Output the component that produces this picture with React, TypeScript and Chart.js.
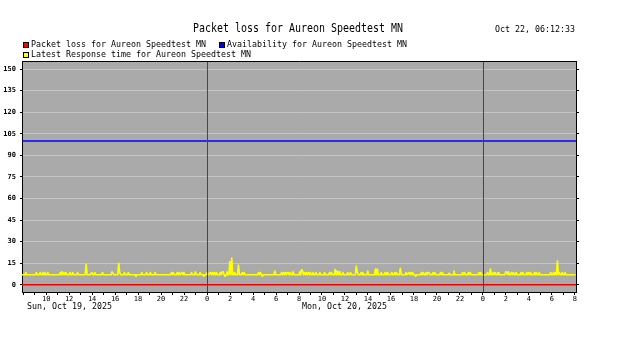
import React, { useEffect, useRef } from "react";
import { Chart, registerables } from "chart.js";

Chart.register(...registerables);

// ---------- text ----------
const TITLE = "Packet loss for Aureon Speedtest MN";
const TIMESTAMP = "Oct 22, 06:12:33";
const LEGEND_LABELS = [
  "Packet loss for Aureon Speedtest MN",
  "Availability for Aureon Speedtest MN",
  "Latest Response time for Aureon Speedtest MN",
];
const LEGEND_COLORS = ["#ff0000", "#0000ff", "#ffff00"];

// ---------- axes (x in hours since Sun Oct 19 2025 00:00) ----------
const X_MIN = 7.9;
const X_MAX = 56.1;
const Y_MIN = -5;
const Y_MAX = 155.6;
const Y_TICKS = [0, 15, 30, 45, 60, 75, 90, 105, 120, 135, 150];
const X_LABEL_HOURS = [10, 12, 14, 16, 18, 20, 22, 24, 26, 28, 30, 32, 34, 36, 38, 40, 42, 44, 46, 48, 50, 52, 54, 56];
const X_LABELS = ["10", "12", "14", "16", "18", "20", "22", "0", "2", "4", "6", "8", "10", "12", "14", "16", "18", "20", "22", "0", "2", "4", "6", "8"];
const DAY_LABELS = ["Sun, Oct 19, 2025", "Mon, Oct 20, 2025"];
const DAY_LABEL_HOURS = [12, 36];
const MIDNIGHT_HOURS = [24, 48];

// ---------- series ----------
const LINE_TIMES = [7.9, 56.1];
const PACKET_LOSS = [0, 0];
const AVAILABILITY = [100, 100];

const SAMPLE_START = 7.9; // hours
const SAMPLE_STEP = 1 / 12; // 5 minutes
const RESPONSE_TIME = [
  7, 7, 7, 7, 8.5, 7, 7, 7, 7, 7, 7, 7,
  7, 7, 7, 8.5, 7, 7, 7, 8.5, 7, 7, 8.5, 7,
  8.5, 7, 7, 8.5, 7, 7, 7, 7, 7, 7, 7, 7,
  7, 7, 7, 7, 8.5, 7, 9, 7, 8.5, 7, 8.5, 7,
  7, 7, 8.5, 7, 7, 8.5, 7, 7, 7, 7, 8.5, 7,
  7, 7, 7, 7, 7, 7, 7, 14, 7, 7, 7, 7,
  7, 8.5, 7, 7, 8.5, 7, 7, 7, 7, 7, 7, 7,
  8.5, 7, 7, 7, 7, 7, 7, 7, 7, 7, 9, 9,
  7, 7, 7, 7, 7, 15, 8.5, 7, 7, 7, 7, 8.5,
  7, 7, 7, 8.5, 7, 7, 7, 7, 7, 7, 7, 6,
  7, 7, 7, 7, 7, 8.5, 7, 7, 7, 7, 8.5, 7,
  7, 7, 8.5, 7, 7, 7, 7, 8.5, 7, 7, 7, 7,
  7, 7, 7, 7, 7, 7, 7, 7, 7, 7, 7, 7,
  8.5, 7, 8.5, 7, 7, 7, 8.5, 7, 8.5, 7, 7, 8.5,
  7, 8.5, 7, 7, 7, 7, 7, 7, 7, 8.5, 7, 7,
  7, 9, 7, 7, 7, 7, 8.5, 7, 7, 7, 6, 7,
  7, 8.5, 7, 7, 8.5, 8.5, 7, 8.5, 7, 8.5, 7, 8.5,
  7, 7, 7, 8.5, 7, 9, 9, 7, 6, 7, 9, 7,
  7, 16, 7, 18.5, 7, 7, 8.5, 7, 7, 7, 13.5, 7,
  7, 7, 8.5, 7, 8.5, 7, 7, 7, 7, 7, 7, 7,
  7, 7, 7, 7, 7, 7, 7, 8.5, 7, 8.5, 7, 6,
  7, 7, 7, 7, 7, 7, 7, 7, 7, 7, 7, 7,
  9.5, 7, 7, 7, 7, 7, 7, 8.5, 7, 8.5, 7, 8.5,
  7, 8.5, 8.5, 7, 8.5, 7, 7, 9, 7, 7, 7, 7,
  7, 7, 9, 7, 10.5, 9.5, 7, 8.5, 7, 8.5, 7, 8.5,
  7, 8.5, 7, 7, 8.5, 7, 7, 8.5, 7, 7, 7, 8.5,
  7, 7, 7, 7, 8.5, 7, 7, 7, 7, 8.5, 7, 8.5,
  7, 7, 7, 10.5, 7, 9.5, 7, 9, 7, 7, 7, 8.5,
  7, 7, 7, 7, 8.5, 7, 7, 8.5, 7, 7, 7, 7,
  7, 13, 9, 7, 7, 7, 8.5, 7, 8.5, 7, 7, 7,
  7, 9.5, 7, 7, 7, 7, 7, 7, 7, 11, 7, 11,
  7, 7, 7, 8.5, 7, 7, 7, 8.5, 7, 7, 8.5, 7,
  7, 7, 8.5, 7, 7, 8.5, 7, 8.5, 7, 7, 7, 11.5,
  7, 7, 7, 7, 7, 8.5, 7, 7, 8.5, 7, 8.5, 7,
  8.5, 7, 7, 6, 7, 7, 7, 7, 7, 8.5, 7, 8.5,
  7, 7, 8.5, 7, 8.5, 8.5, 7, 7, 7, 8.5, 7, 8.5,
  7, 7, 7, 7, 7, 8.5, 7, 8.5, 7, 7, 7, 7,
  7, 7, 8, 7, 7, 7, 7, 9.5, 7, 7, 7, 7,
  7, 7, 7, 7, 8.5, 7, 8.5, 7, 7, 7, 8.5, 7,
  8.5, 7, 7, 7, 7, 7, 7, 7, 7, 8.5, 7, 8.5,
  7, 7, 7, 7, 7, 7, 8.5, 7, 7, 11, 7, 7,
  8.5, 7, 8.5, 7, 7, 8.5, 7, 7, 7, 7, 7, 7,
  7, 9, 9, 7, 9, 7, 7, 8.5, 7, 8.5, 7, 7,
  8.5, 7, 7, 7, 7, 8.5, 7, 8.5, 7, 7, 7, 8.5,
  7, 8.5, 7, 8.5, 7, 7, 7, 8.5, 7, 8.5, 7, 7,
  8.5, 7, 7, 7, 7, 7, 7, 7, 7, 7, 7, 7,
  8.5, 7, 7, 8.5, 7, 8.5, 7, 16.5, 7, 8.5, 7, 7,
  8.5, 7, 7, 8.5, 7, 7, 7, 7, 7, 7, 7, 7,
  7, 7, 7,
];

// ---------- styling ----------
const MONO = "DejaVu Sans Mono";
const PLOT_BG = "#aaaaaa";
const GRID = "#c6c6c6";
const RED = "#ee0000";

function drawFixedText(
  ctx: CanvasRenderingContext2D,
  text: string,
  x: number,
  y: number,
  size: number,
  advance: number
) {
  ctx.save();
  ctx.font = `${size}px "${MONO}"`;
  ctx.textAlign = "left";
  ctx.textBaseline = "alphabetic";
  ctx.fillStyle = "#000";
  const w = ctx.measureText(text).width || 1;
  const sx = (text.length * advance) / w;
  ctx.translate(x, y);
  ctx.scale(sx, 1);
  ctx.fillText(text, 0, 0);
  ctx.restore();
}

const decorPlugin = {
  id: "decor",
  beforeDraw(chart: any) {
    const { ctx, chartArea: a } = chart;
    ctx.save();
    ctx.fillStyle = "#ffffff";
    ctx.fillRect(0, 0, chart.width, chart.height);
    ctx.fillStyle = PLOT_BG;
    ctx.fillRect(a.left, a.top, a.right - a.left, a.bottom - a.top);
    ctx.restore();
  },
  afterDatasetsDraw(chart: any) {
    const { ctx, chartArea: a } = chart;
    const xs = chart.scales.x;
    ctx.save();
    ctx.strokeStyle = RED;
    ctx.lineWidth = 1;
    MIDNIGHT_HOURS.forEach((h) => {
      const px = Math.round(xs.getPixelForValue(h)) + 0.5;
      ctx.beginPath();
      ctx.moveTo(px, a.top);
      ctx.lineTo(px, a.bottom);
      ctx.stroke();
    });
    ctx.restore();
  },
  afterDraw(chart: any) {
    const { ctx, chartArea: a } = chart;
    const xs = chart.scales.x;
    ctx.save();
    // top border
    ctx.strokeStyle = "#000";
    ctx.lineWidth = 1;
    ctx.beginPath();
    ctx.moveTo(a.left, Math.round(a.top) + 0.5);
    ctx.lineTo(a.right + 1, Math.round(a.top) + 0.5);
    ctx.stroke();

    // title and timestamp
    drawFixedText(ctx, TITLE, 193, 32, 12, 6);
    drawFixedText(ctx, TIMESTAMP, 495, 32, 8, 5);

    // legend
    const legendPos = [
      [23, 42, 31, 47],
      [219, 42, 227, 47],
      [23, 52, 31, 57],
    ];
    LEGEND_LABELS.forEach((lbl, i) => {
      const [sx, sy, tx, ty] = legendPos[i];
      ctx.fillStyle = LEGEND_COLORS[i];
      ctx.fillRect(sx, sy, 6, 6);
      ctx.strokeStyle = "#000";
      ctx.strokeRect(sx + 0.5, sy + 0.5, 5, 5);
      drawFixedText(ctx, lbl, tx, ty, 8, 5);
    });

    // day labels centred on noon
    DAY_LABELS.forEach((lbl, i) => {
      const cx = xs.getPixelForValue(DAY_LABEL_HOURS[i]);
      drawFixedText(ctx, lbl, Math.round(cx - (lbl.length * 5) / 2), 309, 8, 5);
    });
    ctx.restore();
  },
};

export default function App() {
  const ref = useRef<HTMLCanvasElement | null>(null);

  useEffect(() => {
    document.body.style.margin = "0";
    const canvas = ref.current;
    if (!canvas) return;

    const responsePts = RESPONSE_TIME.map((v, i) => ({ x: SAMPLE_START + i * SAMPLE_STEP, y: v }));
    const lossPts = PACKET_LOSS.map((v, i) => ({ x: LINE_TIMES[i], y: v }));
    const availPts = AVAILABILITY.map((v, i) => ({ x: LINE_TIMES[i], y: v }));

    const hourTicks: { value: number }[] = [];
    for (let h = Math.ceil(X_MIN); h <= X_MAX; h++) hourTicks.push({ value: h });

    const chart = new Chart(canvas, {
      type: "line",
      data: {
        datasets: [
          {
            label: LEGEND_LABELS[0],
            data: lossPts,
            borderColor: RED,
            borderWidth: 1.5,
            pointRadius: 0,
          },
          {
            label: LEGEND_LABELS[1],
            data: availPts,
            borderColor: "#0000ff",
            borderWidth: 1.5,
            pointRadius: 0,
          },
          {
            label: LEGEND_LABELS[2],
            data: responsePts,
            borderColor: "#ffff00",
            borderWidth: 1.7,
            borderJoinStyle: "round",
            pointRadius: 0,
            tension: 0,
          },
        ],
      },
      options: {
        animation: false,
        responsive: false,
        devicePixelRatio: 1,
        parsing: false as any,
        layout: { padding: { top: 61, left: 0, right: 0, bottom: 0 } },
        plugins: {
          legend: { display: false },
          title: { display: false },
          tooltip: { enabled: false },
        },
        scales: {
          x: {
            type: "linear",
            position: "bottom",
            min: X_MIN,
            max: X_MAX,
            afterBuildTicks: (s: any) => {
              s.ticks = hourTicks.map((t) => ({ value: t.value }));
            },
            afterFit: (s: any) => {
              s.height = 61;
            },
            grid: {
              drawOnChartArea: false,
              drawTicks: true,
              tickLength: 3,
              tickColor: "#000",
            },
            border: { display: true, color: "#000", width: 1 },
            ticks: {
              autoSkip: false,
              maxRotation: 0,
              minRotation: 0,
              padding: 0,
              color: "#000",
              font: { family: MONO, size: 7 },
              callback: (v: any) => {
                const idx = X_LABEL_HOURS.indexOf(Number(v));
                return idx >= 0 ? X_LABELS[idx] : "";
              },
            },
          },
          y: {
            type: "linear",
            position: "left",
            min: Y_MIN,
            max: Y_MAX,
            afterBuildTicks: (s: any) => {
              s.ticks = Y_TICKS.map((v) => ({ value: v }));
            },
            afterFit: (s: any) => {
              s.width = 22;
            },
            grid: {
              color: GRID,
              lineWidth: 1,
              tickLength: 2,
              tickColor: "#000",
            },
            border: { display: true, color: "#000", width: 1 },
            ticks: {
              padding: 4,
              color: "#000",
              font: { family: MONO, size: 7, weight: "bold" },
            },
          },
          y2: {
            type: "linear",
            position: "right",
            min: Y_MIN,
            max: Y_MAX,
            afterBuildTicks: (s: any) => {
              s.ticks = Y_TICKS.map((v) => ({ value: v }));
            },
            afterFit: (s: any) => {
              s.width = 50;
            },
            grid: {
              drawOnChartArea: false,
              tickLength: 3,
              tickColor: "#000",
            },
            border: { display: true, color: "#000", width: 1 },
            ticks: { display: false },
          },
        },
      },
      plugins: [decorPlugin],
    } as any);

    return () => chart.destroy();
  }, []);

  return (
    <div style={{ position: "fixed", left: 0, top: 0, width: 626, height: 353, background: "#fff" }}>
      <canvas ref={ref} width={626} height={353} style={{ display: "block" }} />
    </div>
  );
}
